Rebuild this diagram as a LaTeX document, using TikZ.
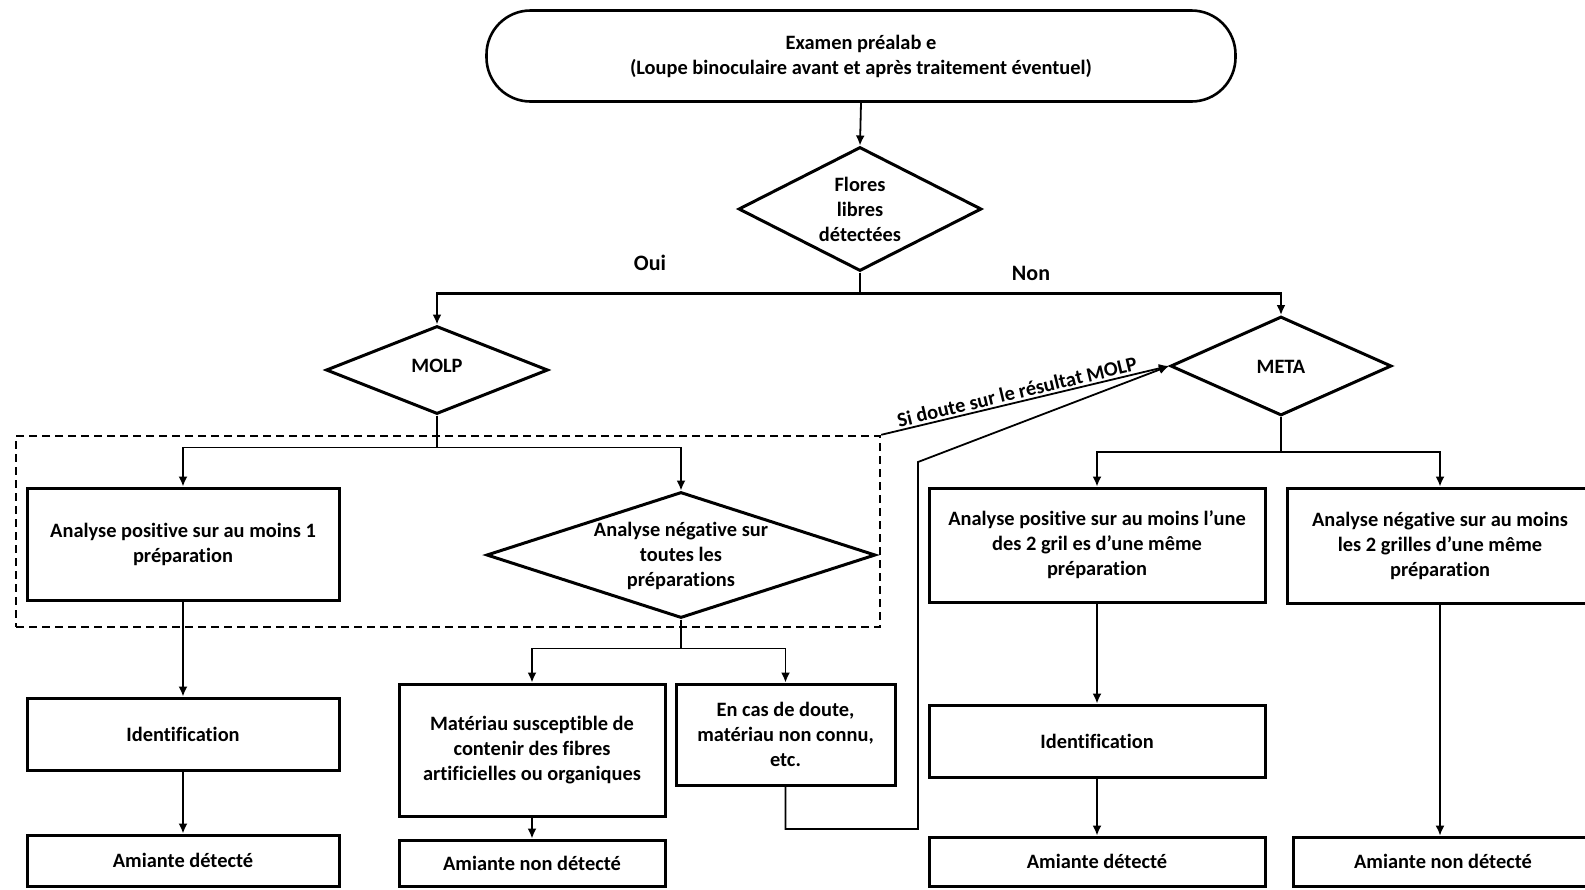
\documentclass[tikz,border=0pt]{standalone}
\usepackage{fontspec}
\setmainfont{Carlito}[Ligatures={NoCommon}]
\usetikzlibrary{shapes.geometric,arrows.meta}
\begin{document}
\begin{tikzpicture}[x=0.5pt,y=-0.5pt,
  txt/.style={font=\bfseries\fontsize{10.2}{12.5}\selectfont, align=center, inner sep=0pt},
  box/.style={draw, line width=1.5pt, txt, inner sep=0pt},
  dia/.style={draw, diamond, line width=1.5pt, inner sep=0pt},
  arr/.style={-{Latex[length=5pt,width=4.5pt]}, line width=0.9pt},
  grpbox/.style={draw, dashed, dash pattern=on 4pt off 2.5pt, line width=1.2pt, inner sep=0pt}
]
\useasboundingbox (0,0) rectangle (1585,889);

% top terminator
\node[box, rounded corners=22pt, line width=1.3pt, minimum width=374.5pt, minimum height=45.5pt] (top) at (861,56)
  {Examen préalab e\\(Loupe binoculaire avant et après traitement éventuel)};

% diamonds
\node[dia, minimum width=121.5pt, minimum height=62pt] (fl) at (860,209) {};
\node[txt] (flt) at (fl.center) {Flores\\libres\\détectées};
\node[dia, minimum width=111pt, minimum height=44pt] (molp) at (437,370) {};
\node[txt] (molpt) at (437,366) {MOLP};
\node[dia, minimum width=110.5pt, minimum height=49.5pt] (meta) at (1281,366) {};
\node[txt] (metat) at (1281,367) {META};

% labels Oui / Non
\node[txt, font=\bfseries\fontsize{11}{12}\selectfont] (oui) at (650,263) {Oui};
\node[txt, font=\bfseries\fontsize{11}{12}\selectfont] (non) at (1031,273) {Non};

% dashed group
\node[grpbox, minimum width=432pt, minimum height=95.5pt] (grp) at (448,531.5) {};

% MOLP branch
\node[box, minimum width=156pt, minimum height=56pt] (b1) at (183,544) {Analyse positive sur au moins 1\\préparation};
\node[dia, minimum width=194.5pt, minimum height=63pt] (d2) at (681,555) {};
\node[txt] (d2t) at (681,556) {Analyse négative sur\\toutes les\\préparations};
\node[box, minimum width=156pt, minimum height=36pt] (id1) at (183,734) {Identification};
\node[box, minimum width=156pt, minimum height=25.5pt] (am1) at (183,860.5) {Amiante détecté};
\node[box, minimum width=133pt, minimum height=66pt] (mat) at (532,750) {Matériau susceptible de\\contenir des fibres\\artificielles ou organiques};
\node[box, minimum width=109.5pt, minimum height=50.5pt] (enc) at (785.5,734.5) {En cas de doute,\\matériau non connu,\\etc.};
\node[box, minimum width=133pt, minimum height=23pt] (am2) at (532,863) {Amiante non détecté};

% META branch
\node[box, minimum width=168pt, minimum height=57pt] (mb1) at (1097,545) {Analyse positive sur au moins l’une\\des 2 gril es d’une même\\préparation};
\node[box, minimum width=153pt, minimum height=57.5pt] (mb2) at (1440,545.5) {Analyse négative sur au moins\\les 2 grilles d’une même\\préparation};
\node[box, minimum width=168pt, minimum height=36pt] (id2) at (1097,741) {Identification};
\node[box, minimum width=168pt, minimum height=24.5pt] (am3) at (1097,861.5) {Amiante détecté};
\node[box, minimum width=150pt, minimum height=24.5pt] (am4) at (1443,861.5) {Amiante non détecté};

% connectors
\draw[arr] (top.south) -- (fl.north);
\draw[arr, line width=1.4pt] (fl.south) -- ++(0,21) -| (molp.north);
\draw[arr, line width=1.4pt] (fl.south) -- ++(0,21) -| (meta.north);

\draw[arr] (molp.south) -- ++(0,32) -| (b1.north);
\draw[arr] (molp.south) -- ++(0,32) -| (d2.north);
\draw[arr] (b1.south) -- (id1.north);
\draw[arr] (id1.south) -- (am1.north);
\draw[arr] (d2.south) -- ++(0,29) -| (mat.north);
\draw[arr] (d2.south) -- ++(0,29) -| (enc.north);
\draw[arr] (mat.south) -- (am2.north);

\coordinate (c1) at (918,829);
\coordinate (c2) at (918,462);
\draw[arr] (enc.south) |- (c1) -- (c2) -- (meta.west);
\draw[arr] (grp.north east) -- node[pos=0.48, above=1pt, sloped, txt] (sid) {Si doute sur le résultat MOLP} (meta.west);

\draw[arr] (meta.south) -- ++(0,35) -| (mb1.north);
\draw[arr] (meta.south) -- ++(0,35) -| (mb2.north);
\draw[arr] (mb1.south) -- (id2.north);
\draw[arr] (id2.south) -- (am3.north);
\draw[arr, line width=0.7pt] (mb2.south) -- (mb2.south |- am4.north);
\end{tikzpicture}
\end{document}
